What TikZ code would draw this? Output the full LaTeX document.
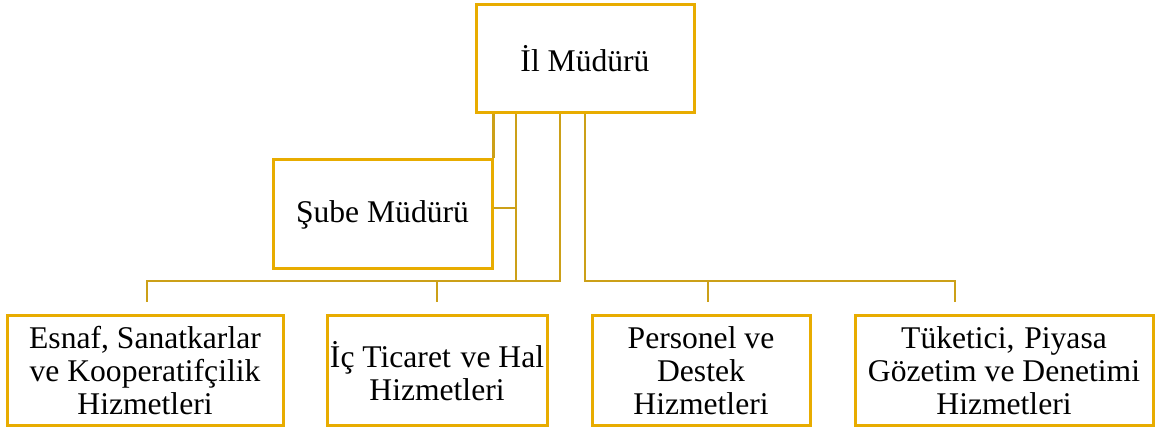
\documentclass[tikz,border=0pt]{standalone}
\usepackage{fontspec}
\setmainfont{Liberation Serif}
\usepackage{tikz}
\usetikzlibrary{positioning}
\definecolor{boxgold}{RGB}{232,172,0}
\definecolor{linegold}{RGB}{204,160,24}

\begin{document}
\begin{tikzpicture}[x=0.5pt, y=-0.5pt, auto,
  unit/.style={draw=boxgold, line width=1.5pt, inner sep=1pt, align=center,
    minimum height=55pt, font=\fontsize{15.8}{16.5}\selectfont},
  link/.style={draw=linegold, line width=1.2pt}]
\useasboundingbox (0,0) rectangle (1156,432);

\node (il) at (585,59) [unit, minimum width=109pt, minimum height=54pt] {İl Müdürü};
\node (sube) at (382.5,214.5) [unit, minimum width=109.5pt, minimum height=54.5pt] {Şube Müdürü};
\node (esnaf) at (145,371) [unit, minimum width=138pt] {Esnaf, Sanatkarlar\\ve Kooperatifçilik\\Hizmetleri};
\node (ticaret) at (437,371) [unit, minimum width=110pt] {İç Ticaret\ \kern1pt ve Hal\\Hizmetleri};
\node (personel) at (701,371) [unit, minimum width=109pt] {Personel ve\\Destek\\Hizmetleri};
\node (tuketici) at (1004,371) [unit, minimum width=149pt] {Tüketici,\ \kern1pt Piyasa\\Gözetim ve Denetimi\\Hizmetleri};

\coordinate (j1) at (516,208);
\coordinate (bl) at (560,281);
\coordinate (br) at (585,281);
\coordinate (e1) at (147,302);
\coordinate (e2) at (437,302);
\coordinate (e3) at (708,302);
\coordinate (e4) at (955,302);

\draw [link] (il.south -| sube.east) -- (sube.north east);
\draw [link] (sube.east |- j1) -- (j1);
\draw [link] (il.south -| j1) -- (j1 |- bl);
\draw [link] (il.south -| bl) -- (bl) -| (e1);
\draw [link] (e2) -- (e2 |- bl);
\draw [link] (il.south) -- (br) -| (e4);
\draw [link] (e3) -- (e3 |- br);
\end{tikzpicture}
\end{document}
